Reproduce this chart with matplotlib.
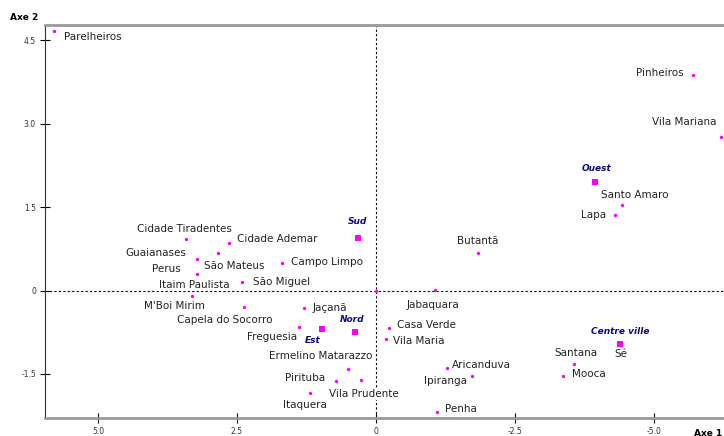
import matplotlib.pyplot as plt

# districts (first two axes)
districts = ["Parelheiros", "Pinheiros", "Vila Mariana", "Santo Amaro", "Lapa", "Butantã",
             "Jabaquara", "Cidade Tiradentes", "Cidade Ademar", "São Mateus", "Guaianases",
             "Perus", "Campo Limpo", "São Miguel", "Itaim Paulista", "M'Boi Mirim",
             "Capela do Socorro", "Jaçanã", "Freguesia", "Ermelino Matarazzo", "Pirituba",
             "Vila Prudente", "Itaquera", "Casa Verde", "Vila Maria", "Aricanduva",
             "Ipiranga", "Penha", "Santana", "Mooca", "Sé"]
dist_x = [5.79, -5.71, -6.20, -4.42, -4.30, -1.83,
          -1.06, 3.42, 2.64, 2.84, 3.22,
          3.22, 1.69, 2.41, 3.22, 3.31,
          2.38, 1.29, 1.38, 0.50, 0.72,
          0.27, 1.19, -0.23, -0.18, -1.28,
          -1.73, -1.10, -3.56, -3.36, -4.39]
dist_y = [4.67, 3.88, 2.76, 1.54, 1.36, 0.67,
          0.01, 0.93, 0.85, 0.67, 0.57,
          0.30, 0.49, 0.16, 0.06, -0.10,
          -0.30, -0.31, -0.66, -1.41, -1.63,
          -1.61, -1.84, -0.67, -0.87, -1.39,
          -1.54, -2.19, -1.32, -1.54, -0.96]

# zones (supplementary points)
zones = ["Sud", "Nord", "Est", "Ouest", "Centre ville"]
zone_x = [0.32, 0.38, 0.97, -3.95, -4.39]
zone_y = [0.94, -0.75, -0.69, 1.95, -0.96]

# label placement: (alignment, dx, dy) in pixels
lab = {
    "Parelheiros": ("left", 10, -6), "Pinheiros": ("right", -10, 2),
    "Vila Mariana": ("right", -4, 15), "Santo Amaro": ("center", 13, 10),
    "Lapa": ("right", -9, 0), "Butantã": ("center", 0, 12),
    "Jabaquara": ("center", -2, -15), "Cidade Tiradentes": ("center", -1, 10),
    "Cidade Ademar": ("left", 8, 4), "São Mateus": ("left", -14, -13),
    "Guaianases": ("right", -11, 6), "Perus": ("right", -16, 5),
    "Campo Limpo": ("left", 9, 1), "São Miguel": ("left", 11, 0),
    "Itaim Paulista": ("center", -3, 2), "M'Boi Mirim": ("right", 13, -10),
    "Capela do Socorro": ("center", -19, -13), "Jaçanã": ("left", 8, 0),
    "Freguesia": ("right", -2, -10), "Ermelino Matarazzo": ("right", 24, 13),
    "Pirituba": ("right", -11, 3), "Vila Prudente": ("center", 3, -14),
    "Itaquera": ("center", -5, -12), "Casa Verde": ("left", 8, 3),
    "Vila Maria": ("left", 7, -2), "Aricanduva": ("left", 5, 3),
    "Ipiranga": ("right", -5, -5), "Penha": ("left", 8, 3),
    "Santana": ("center", 2, 11), "Mooca": ("left", 9, 2), "Sé": ("center", 1, -10),
    "Sud": ("center", -1, 17), "Nord": ("center", -3, 13), "Est": ("center", -9, -12),
    "Ouest": ("center", 1, 14), "Centre ville": ("center", 0, 12),
}

fig = plt.figure(figsize=(7.24, 4.36), dpi=100)
ax = fig.add_axes([45 / 724, 18 / 436, 695 / 724, 393 / 436])

ax.axhline(0, color="black", lw=0.8, ls=(0, (2, 2)), zorder=1)
ax.axvline(0, color="black", lw=0.8, ls=(0, (2, 2)), zorder=1)

ax.scatter(dist_x + [0], dist_y + [0], s=6, color="#ff00ff", marker="o", lw=0, zorder=2)
ax.scatter(zone_x, zone_y, s=22, color="#ff00ff", marker="s", lw=0, zorder=2)

for name, x, y in zip(districts, dist_x, dist_y):
    ha, dx, dy = lab[name]
    ax.annotate(name, (x, y), xytext=(dx, dy), textcoords="offset pixels",
                ha=ha, va="center", fontsize=7.5, color="#222222", zorder=3,
                bbox=dict(boxstyle="square,pad=0.05", fc="white", ec="none"))

for name, x, y in zip(zones, zone_x, zone_y):
    ha, dx, dy = lab[name]
    ax.annotate(name, (x, y), xytext=(dx, dy), textcoords="offset pixels",
                ha=ha, va="center", fontsize=6.5, color="#0a0a80",
                fontweight="bold", fontstyle="italic", zorder=3)

ax.set_xlim(5.953, -6.55)
ax.set_ylim(-2.293, 4.775)
ax.set_xticks([5, 2.5, 0, -2.5, -5])
ax.set_xticklabels(["5.0", "2.5", "0", "-2.5", "-5.0"])
ax.set_yticks([4.5, 3.0, 1.5, 0, -1.5])
ax.set_yticklabels(["4.5", "3.0", "1.5", "0", "-1.5"])
ax.tick_params(direction="inout", length=7, width=0.8, labelsize=5.5,
               labelcolor="#333333", pad=3)

for side in ["top", "bottom"]:
    ax.spines[side].set_color("#999999")
    ax.spines[side].set_linewidth(2)
ax.spines["left"].set_color("#333333")
ax.spines["left"].set_linewidth(0.8)
ax.spines["right"].set_visible(False)

fig.text(10 / 724, 1 - 17 / 436, "Axe 2", fontsize=6.5, fontweight="bold", va="center")
fig.text(694 / 724, 1 - 433 / 436, "Axe 1", fontsize=6.5, fontweight="bold", va="center")

fig.savefig("out.png", dpi=100)
